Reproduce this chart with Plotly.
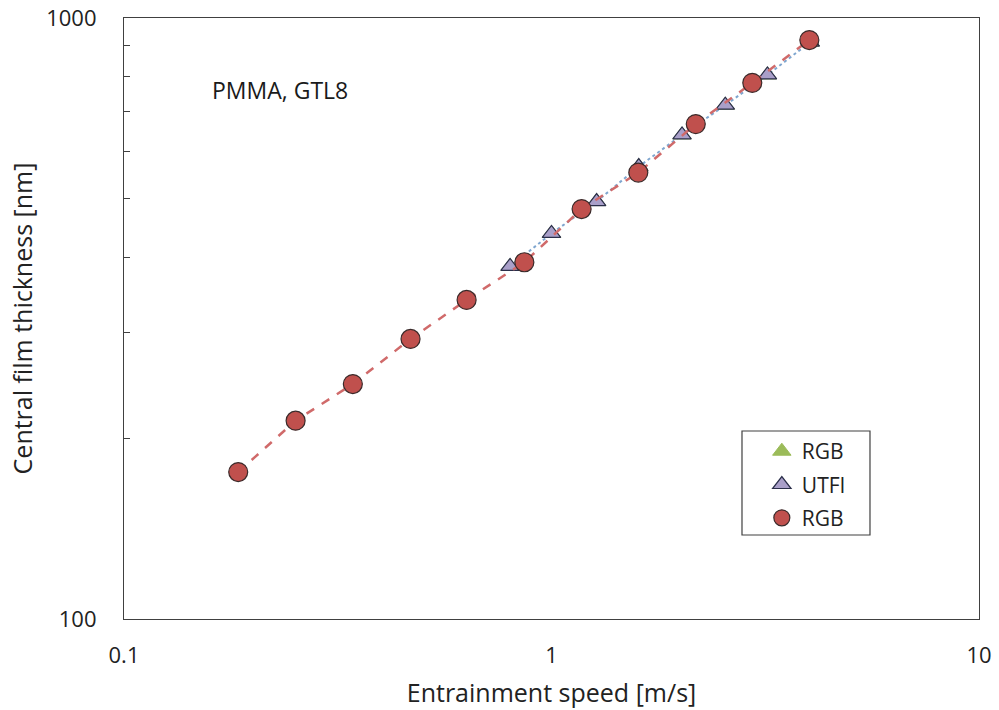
import plotly.graph_objects as go

# Entrainment speed [m/s] and central film thickness [nm]
rgb_tri_speed = [0.80, 1.00, 1.275, 1.60, 2.02, 2.55, 3.20, 4.03]
rgb_tri_thick = [386, 438, 495, 566, 639, 716, 804, 912]

utfi_speed = [0.80, 1.00, 1.275, 1.60, 2.02, 2.55, 3.20, 4.03]
utfi_thick = [386, 438, 495, 566, 639, 716, 804, 912]

rgb_speed = [0.185, 0.252, 0.343, 0.468, 0.633, 0.864, 1.176, 1.596, 2.175, 2.949, 4.01]
rgb_thick = [175.6, 213.8, 246, 292.4, 339.5, 392.3, 481, 553, 666, 780, 919]

x_ticks = [0.1, 1, 10]
y_ticks = [100, 1000]

FONT = "Open Sans"
TRI_MARK = dict(symbol="triangle-up", size=16, color="#A99FC9",
                line=dict(color="#2B2F4A", width=1.2))
CIRC_MARK = dict(symbol="circle", size=19, color="#C0504D",
                 line=dict(color="#3A2A2A", width=1.2))

fig = go.Figure()

# connecting lines (kept out of the legend)
fig.add_trace(go.Scatter(
    x=utfi_speed, y=utfi_thick, mode="lines", showlegend=False, hoverinfo="skip",
    line=dict(color="#7FA6CF", width=2, dash="dot"),
))

# marker series
fig.add_trace(go.Scatter(
    x=rgb_tri_speed, y=rgb_tri_thick, name="RGB", mode="markers",
    legendgroup="a",
    marker=dict(symbol="triangle-up", size=16, color="#9BBB59",
                line=dict(color="#9BBB59", width=1)),
))
fig.add_trace(go.Scatter(
    x=utfi_speed, y=utfi_thick, name="UTFI", mode="markers",
    legendgroup="b", marker=TRI_MARK,
))
fig.add_trace(go.Scatter(
    x=rgb_speed, y=rgb_thick, mode="lines", showlegend=False, hoverinfo="skip",
    line=dict(color="#D06A6A", width=2.5, dash="dash"),
))
fig.add_trace(go.Scatter(
    x=rgb_speed, y=rgb_thick, name="RGB", mode="markers",
    legendgroup="c", marker=CIRC_MARK,
))

fig.add_annotation(
    x=0.1006, y=0.881, xref="paper", yref="paper", xanchor="left", yanchor="middle",
    text="PMMA, GTL8", showarrow=False,
    font=dict(family=FONT, size=23, color="#1a1a1a"),
)

# legend frame
fig.add_shape(
    type="rect", xref="paper", yref="paper",
    x0=0.7228, x1=0.8725, y0=0.1398, y1=0.3128,
    line=dict(color="#404040", width=1.2), fillcolor="white", layer="above",
)

fig.update_xaxes(
    type="log", range=[-1, 1], tickvals=x_ticks, ticktext=["0.1", "1", "10"],
    showgrid=False, zeroline=False, showline=True, linecolor="#404040", linewidth=1.2,
    mirror=True, ticks="", ticklabelstandoff=16, automargin=False,
    tickfont=dict(family=FONT, size=22, color="#222"),
    title=dict(text="Entrainment speed [m/s]", standoff=16,
               font=dict(family=FONT, size=25, color="#222")),
)
fig.update_yaxes(
    type="log", range=[2, 3], tickvals=y_ticks, ticktext=["100", "1000"],
    showgrid=False, zeroline=False, showline=True, linecolor="#404040", linewidth=1.2,
    mirror=True, ticks="", ticklabelstandoff=22, automargin=False,
    minor=dict(ticks="inside", ticklen=6, tickcolor="#404040", tickwidth=1,
               tickvals=[200, 300, 400, 500, 600, 700, 800, 900], showgrid=False),
    tickfont=dict(family=FONT, size=22, color="#222"),
    title=dict(text="Central film thickness [nm]", standoff=6,
               font=dict(family=FONT, size=25, color="#222")),
)

fig.update_layout(
    width=999, height=710,
    margin=dict(l=124, r=20, t=18, b=91, autoexpand=False),
    paper_bgcolor="white", plot_bgcolor="white",
    showlegend=True,
    legend=dict(
        x=0.746, y=0.3127, xanchor="left", yanchor="top",
        bgcolor="rgba(0,0,0,0)", borderwidth=0,
        font=dict(family=FONT, size=21, color="#222"),
        tracegroupgap=3, itemsizing="trace", itemwidth=30,
    ),
)

fig.write_html("out.html")
